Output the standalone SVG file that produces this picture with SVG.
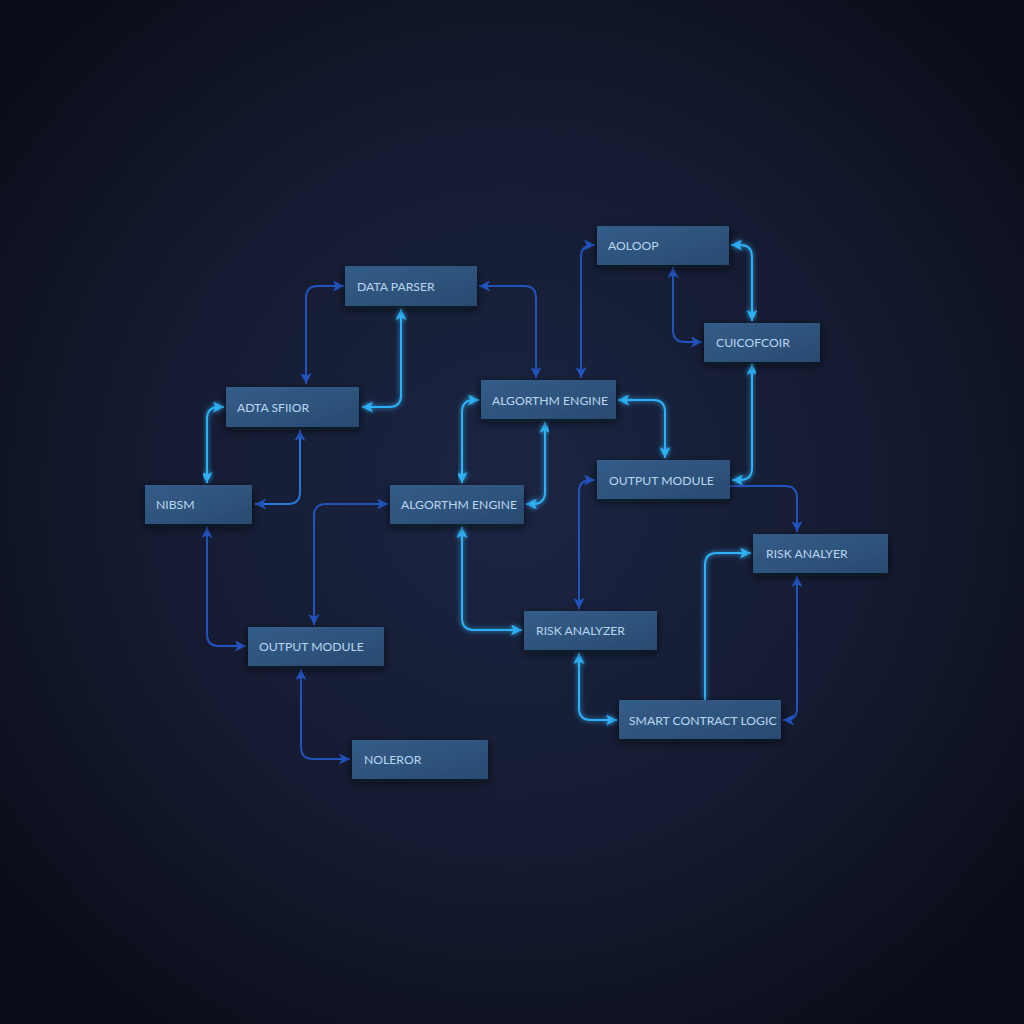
<svg xmlns="http://www.w3.org/2000/svg" width="1024" height="1024" viewBox="0 0 1024 1024">
<defs>
<radialGradient id="bg" cx="50%" cy="48%" r="62%">
<stop offset="0" stop-color="#1b2543"/>
<stop offset="0.6" stop-color="#141a30"/>
<stop offset="1" stop-color="#0b0e1a"/>
</radialGradient>
<linearGradient id="nodeFill" x1="0" y1="0" x2="1" y2="1">
<stop offset="0" stop-color="#335d89"/>
<stop offset="1" stop-color="#2a4a70"/>
</linearGradient>
<filter id="glow" x="-20%" y="-20%" width="140%" height="140%">
<feGaussianBlur stdDeviation="2.5" result="b"/>
<feMerge><feMergeNode in="b"/><feMergeNode in="SourceGraphic"/></feMerge>
</filter>
<filter id="shadow" x="-20%" y="-30%" width="140%" height="160%">
<feDropShadow dx="0" dy="3" stdDeviation="4" flood-color="#05070f" flood-opacity="0.7"/>
</filter>
<marker id="aC" viewBox="0 0 10 10" refX="10" refY="5" markerWidth="11" markerHeight="11" markerUnits="userSpaceOnUse" orient="auto-start-reverse">
<path d="M0,0 L10,5 L0,10 L2.5,5 Z" fill="#2fb0f5"/>
</marker>
<marker id="aD" viewBox="0 0 10 10" refX="10" refY="5" markerWidth="11" markerHeight="11" markerUnits="userSpaceOnUse" orient="auto-start-reverse">
<path d="M0,0 L10,5 L0,10 L2.5,5 Z" fill="#2253bd"/>
</marker>
</defs>
<style>
.node rect{fill:url(#nodeFill);filter:url(#shadow);}
.node text{font-family:Lato,"Liberation Sans",sans-serif;font-size:12.2px;fill:#b9d5f0;dominant-baseline:central;}
.c{fill:none;stroke:#2fb0f5;stroke-width:2;marker-start:url(#aC);marker-end:url(#aC);filter:url(#glow);}
.d{fill:none;stroke:#2253bd;stroke-width:2;marker-start:url(#aD);marker-end:url(#aD);}
.m{fill:none;stroke:#2878d8;stroke-width:2;marker-start:url(#aD);marker-end:url(#aD);}
.endonly{marker-start:none;}
</style>
<rect width="1024" height="1024" fill="url(#bg)"/>
<g id="connectors">
<path class="d" d="M306,384 V298 Q306,286 318,286 H344"/>
<path class="d" d="M479,286 H524 Q536,286 536,298 V378"/>
<path class="c" d="M401,309 V395 Q401,407 389,407 H362"/>
<path class="c" d="M207,483 V419 Q207,407 219,407 H224"/>
<path class="m" d="M300,430 V492 Q300,504 288,504 H255"/>
<path class="d" d="M207,527 V634 Q207,646 219,646 H246"/>
<path class="d" d="M314,625 V516 Q314,504 326,504 H388"/>
<path class="d" d="M301,669 V747 Q301,759 313,759 H350"/>
<path class="c" d="M437,527 V738"/>
<path class="c" d="M462,527 V618 Q462,630 474,630 H522"/>
<path class="c" d="M462,483 V412 Q462,400 474,400 H479"/>
<path class="c" d="M545,422 V492 Q545,504 533,504 H526"/>
<path class="c" d="M618,400 H653 Q665,400 665,412 V458"/>
<path class="d" d="M581,378 V257 Q581,245 593,245 H595"/>
<path class="c" d="M731,245 H740 Q752,245 752,257 V321"/>
<path class="d" d="M673,267 V330 Q673,342 685,342 H702"/>
<path class="c" d="M752,364 V468 Q752,480 740,480 H732"/>
<path class="d endonly" d="M730,486 H785 Q797,486 797,498 V532"/>
<path class="d" d="M579,609 V492 Q579,480 591,480 H595"/>
<path class="c endonly" d="M705,700 V565 Q705,553 717,553 H751"/>
<path class="d" d="M797,576 V708 Q797,720 785,720 H783"/>
<path class="c" d="M579,653 V708 Q579,720 591,720 H617"/>
</g>
<g id="n-data-parser" class="node"><rect x="345" y="266" width="132" height="40"/><text x="357" y="286">DATA PARSER</text></g>
<g id="n-aoloop" class="node"><rect x="597" y="226" width="132" height="39"/><text x="608" y="245">AOLOOP</text></g>
<g id="n-cuicofcoir" class="node"><rect x="704" y="323" width="116" height="39"/><text x="716" y="342">CUICOFCOIR</text></g>
<g id="n-adta-sfiior" class="node"><rect x="226" y="387" width="133" height="40"/><text x="237" y="407">ADTA SFIIOR</text></g>
<g id="n-algo-top" class="node"><rect x="481" y="380" width="135" height="39"/><text x="492" y="400">ALGORTHM ENGINE</text></g>
<g id="n-nibsm" class="node"><rect x="145" y="485" width="107" height="39"/><text x="156" y="504">NIBSM</text></g>
<g id="n-algo-mid" class="node"><rect x="390" y="485" width="134" height="39"/><text x="401" y="504">ALGORTHM ENGINE</text></g>
<g id="n-output-right" class="node"><rect x="597" y="460" width="133" height="39"/><text x="609" y="480">OUTPUT MODULE</text></g>
<g id="n-risk-analyer" class="node"><rect x="753" y="534" width="135" height="39"/><text x="766" y="553">RISK ANALYER</text></g>
<g id="n-output-left" class="node"><rect x="248" y="627" width="136" height="39"/><text x="259" y="646">OUTPUT MODULE</text></g>
<g id="n-risk-analyzer" class="node"><rect x="524" y="611" width="133" height="39"/><text x="536" y="630">RISK ANALYZER</text></g>
<g id="n-smart-contract" class="node"><rect x="619" y="700" width="162" height="39"/><text x="629" y="720">SMART CONTRACT LOGIC</text></g>
<g id="n-noleror" class="node"><rect x="352" y="740" width="136" height="39"/><text x="364" y="759">NOLEROR</text></g>
</svg>
